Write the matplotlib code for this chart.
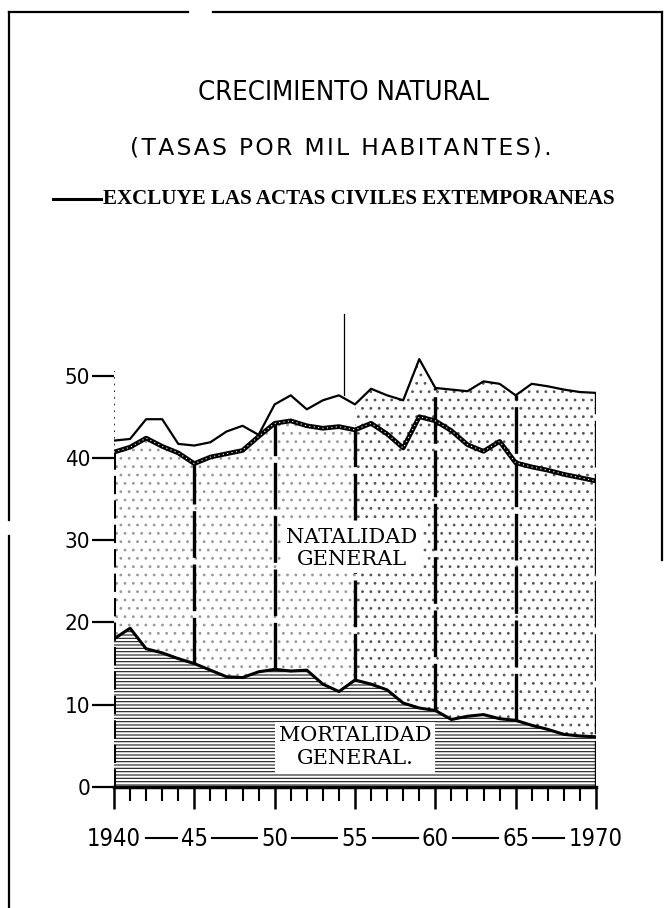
import numpy as np
import matplotlib
matplotlib.use("Agg")
import matplotlib.pyplot as plt
from matplotlib import font_manager
from matplotlib.lines import Line2D

# tasas por mil habitantes, 1940-1970
years = list(range(1940, 1971))
natalidad_total = [42.1, 42.3, 44.7, 44.7, 41.7, 41.5, 41.9, 43.2, 43.9, 42.8,
                   46.5, 47.6, 45.9, 47.0, 47.6, 46.5, 48.4, 47.6, 47.0, 52.0,
                   48.5, 48.3, 48.1, 49.3, 49.0, 47.6, 49.0, 48.7, 48.3, 48.0,
                   47.9]
natalidad_excl = [40.7, 41.3, 42.4, 41.4, 40.6, 39.3, 40.1, 40.5, 40.9, 42.6,
                  44.2, 44.5, 43.9, 43.6, 43.8, 43.4, 44.2, 42.9, 41.2, 45.0,
                  44.5, 43.3, 41.6, 40.8, 42.0, 39.4, 38.9, 38.5, 38.0, 37.6,
                  37.2]
mortalidad = [18.0, 19.3, 16.8, 16.3, 15.6, 15.0, 14.2, 13.4, 13.3, 14.0,
              14.3, 14.1, 14.2, 12.5, 11.6, 13.0, 12.5, 11.8, 10.2, 9.6,
              9.3, 8.2, 8.6, 8.8, 8.3, 8.1, 7.5, 7.0, 6.4, 6.2,
              6.1]

quinquenios = [1940, 1945, 1950, 1955, 1960, 1965, 1970]
quinquenio_labels = ['1940', '45', '50', '55', '60', '65', '1970']
y_ticks = [0, 10, 20, 30, 40, 50]

title = 'CRECIMIENTO NATURAL'
subtitle = '(TASAS POR MIL HABITANTES).'
note = 'EXCLUYE LAS ACTAS CIVILES EXTEMPORANEAS'

# stray vertical stroke on the original
trazo_year = 1954.3
trazo_range = (47.6, 57.5)

W, H = 672, 908


def narrow_font():
    """ pick a narrow sans if one is installed """
    fonts = font_manager.fontManager.ttflist
    names = {f.name for f in fonts}
    if 'Liberation Sans Narrow' in names:
        return 'Liberation Sans Narrow', 'normal'
    for f in fonts:
        if f.name == 'DejaVu Sans' and f.stretch in ('condensed', 'semi-condensed'):
            return 'DejaVu Sans', 'condensed'
    return 'DejaVu Sans', 'normal'


def fit_width(fig, txt, width_px):
    r = fig.canvas.get_renderer()
    w = txt.get_window_extent(renderer=r).width
    txt.set_fontsize(txt.get_fontsize() * width_px / w)


def fx(px):
    return px / W


def fy(py):
    return 1 - py / H


def plot():
    plt.rcParams['hatch.linewidth'] = 0.8
    fam, stretch = narrow_font()

    fig = plt.figure(figsize=(W / 100, H / 100), dpi=100)
    fig.patch.set_facecolor('white')

    # frame around the page
    for xs, ys in [((9, 188), (12, 12)), ((213, 662), (12, 12)),
                   ((9, 9), (12, 520)), ((9, 9), (536, 908)),
                   ((662, 662), (12, 560))]:
        fig.add_artist(Line2D([fx(x) for x in xs], [fy(y) for y in ys],
                              color='black', lw=1.6))

    t1 = fig.text(fx(343), fy(93), title, ha='center', va='center',
                  family=fam, fontstretch=stretch, fontsize=20)
    # letter-spaced subtitle
    spaced = '\u200a'.join(subtitle)
    t2 = fig.text(fx(341), fy(148), spaced, ha='center', va='center',
                  family='DejaVu Sans', fontsize=15)
    t3 = fig.text(fx(103), fy(199), note, ha='left', va='center',
                  family='Liberation Serif', fontweight='bold', fontsize=14)
    fit_width(fig, t1, 293)
    fit_width(fig, t2, 422)
    fit_width(fig, t3, 515)
    fig.add_artist(Line2D([fx(53), fx(101)], [fy(199), fy(199)],
                          color='black', lw=2.2))

    ax = fig.add_axes([fx(114), 121 / H, (596 - 114) / W, (787 - 318) / H])
    ax.set_xlim(1940, 1970)
    ax.set_ylim(0, 57)

    yrs = np.array(years)
    tot = np.array(natalidad_total)
    exc = np.array(natalidad_excl)
    mor = np.array(mortalidad)

    # natalidad (stippled, lighter before 1955)
    ax.fill_between(yrs, 0, exc, where=yrs <= 1955, facecolor='white',
                    edgecolor='#999', hatch='..', linewidth=0, zorder=1)
    ax.fill_between(yrs, 0, exc, where=yrs >= 1955, facecolor='white',
                    edgecolor='#555', hatch='..', linewidth=0, zorder=1)
    ax.fill_between(yrs, exc, tot, where=yrs >= 1955, facecolor='white',
                    edgecolor='#555', hatch='..', linewidth=0, zorder=1)
    # mortalidad (horizontal hatching)
    ax.fill_between(yrs, 0, mor, facecolor='white', edgecolor='#1a1a1a',
                    hatch='-----', linewidth=0, zorder=2)

    ax.plot(yrs, tot, color='black', lw=1.6, zorder=4)
    ax.plot(yrs, exc, color='black', lw=3.4, zorder=5)
    ax.plot(yrs, exc, color='white', lw=0.8, ls=(0, (1, 3)), zorder=6)
    ax.plot(yrs, mor, color='black', lw=2.2, zorder=4)

    # separators every five years
    for yr in quinquenios[1:]:
        i = years.index(yr)
        if yr == 1970:
            lo, hi = 0, tot[i]
        elif yr >= 1960:
            lo, hi = mor[i], tot[i]
        else:
            lo, hi = mor[i], exc[i]
        ax.plot([yr, yr], [lo, hi], color='black', lw=2.4,
                ls=(0, (14, 2)), zorder=3)
    ax.plot([1940, 1940], [0, exc[0]], color='black', lw=2.2,
            ls=(0, (6, 2)), zorder=3)
    ax.plot([1940, 1940], [exc[0], 50.5], color='black', lw=1.2,
            ls=(0, (1, 3)), zorder=3)
    ax.plot([trazo_year, trazo_year], trazo_range, color='black', lw=0.9,
            zorder=3, clip_on=False)

    ax.text(1954.8, 29.0, 'NATALIDAD\nGENERAL', ha='center', va='center',
            family='DejaVu Serif', fontsize=15, linespacing=1.25, zorder=7,
            bbox=dict(facecolor='white', edgecolor='none', pad=3))
    ax.text(1955.0, 4.85, 'MORTALIDAD\nGENERAL.', ha='center', va='center',
            family='DejaVu Serif', fontsize=15, linespacing=1.3, zorder=7,
            bbox=dict(facecolor='white', edgecolor='none', pad=3))

    for s in ['top', 'right', 'left']:
        ax.spines[s].set_visible(False)
    ax.spines['bottom'].set_linewidth(2.5)
    ax.spines['bottom'].set_zorder(8)

    ax.set_yticks(y_ticks)
    ax.set_yticklabels([str(v) for v in y_ticks], family=fam,
                       fontstretch=stretch, fontsize=16)
    ax.tick_params(axis='y', direction='out', length=16, width=1.6, pad=1)

    ax.set_xticks(quinquenios)
    ax.set_xticklabels(quinquenio_labels, family=fam, fontstretch=stretch,
                       fontsize=17)
    ax.set_xticks(years, minor=True)
    ax.tick_params(axis='x', which='major', direction='out', length=16,
                   width=1.8, pad=13)
    ax.tick_params(axis='x', which='minor', direction='out', length=10,
                   width=1.5)

    # dashes joining the year labels
    half = [1.85 if len(s) == 4 else 0.95 for s in quinquenio_labels]
    for k in range(len(quinquenios) - 1):
        a = quinquenios[k] + half[k] + 0.15
        b = quinquenios[k + 1] - half[k + 1] - 0.15
        ax.plot([a, b], [-0.108, -0.108], color='black', lw=1.5,
                transform=ax.get_xaxis_transform(), clip_on=False)

    fig.savefig('out.png', dpi=100, facecolor='white')


if __name__ == "__main__":
    plot()
